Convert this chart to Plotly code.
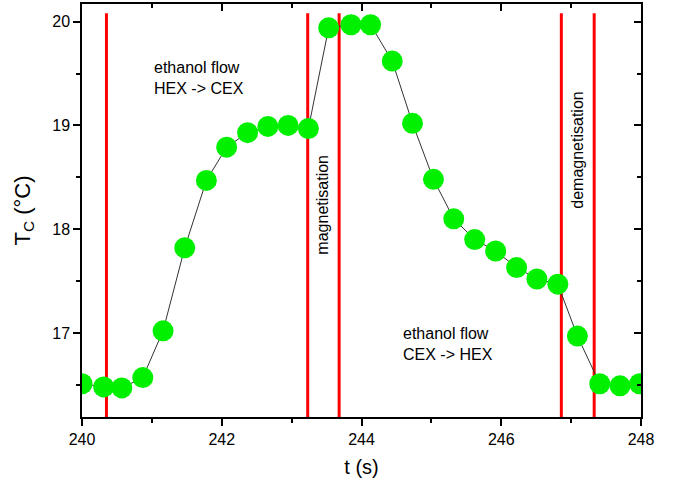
import plotly.graph_objects as go

t = [240.0, 240.31, 240.57, 240.87, 241.16, 241.47, 241.78, 242.07, 242.37, 242.66,
     242.95, 243.24, 243.53, 243.85, 244.13, 244.44, 244.73, 245.03, 245.32, 245.62,
     245.92, 246.22, 246.51, 246.81, 247.09, 247.41, 247.70, 247.98]
tc = [16.51, 16.48, 16.47, 16.57, 17.02, 17.82, 18.47, 18.79, 18.93, 18.99,
      19.00, 18.97, 19.94, 19.97, 19.97, 19.62, 19.02, 18.48, 18.10, 17.90,
      17.79, 17.63, 17.52, 17.47, 16.97, 16.51, 16.49, 16.51]
event_t = [240.35, 243.23, 243.68, 246.86, 247.33]
line_top = 20.08
line_bottom = 16.19

xr = [240, 248]
yr = [16.19, 20.17]
font = "Liberation Sans, Arial, sans-serif"

fig = go.Figure()
for et in event_t:
    fig.add_trace(go.Scatter(x=[et, et], y=[line_bottom, line_top], mode="lines",
                             line=dict(color="#ff0000", width=3), showlegend=False,
                             hoverinfo="skip"))
fig.add_trace(go.Scatter(x=t, y=tc, mode="lines+markers",
                         line=dict(color="#333333", width=1),
                         marker=dict(size=21, color="#00f000"),
                         showlegend=False))
# invisible trace so the mirrored (top/right) axes are drawn
fig.add_trace(go.Scatter(x=t[:1], y=tc[:1], xaxis="x2", yaxis="y2", mode="markers",
                         marker=dict(opacity=0), showlegend=False, hoverinfo="skip"))

ann_font = dict(size=16, color="black", family=font)
fig.add_annotation(x=241.0, y=19.46, text="ethanol flow<br>HEX -> CEX", showarrow=False,
                   xanchor="left", yanchor="middle", align="left", font=ann_font)
fig.add_annotation(x=244.56, y=16.89, text="ethanol flow<br>CEX -> HEX", showarrow=False,
                   xanchor="left", yanchor="middle", align="left", font=ann_font)
fig.add_annotation(x=243.44, y=18.24, text="magnetisation", showarrow=False, textangle=-90,
                   xanchor="center", yanchor="middle", font=ann_font)
fig.add_annotation(x=247.09, y=18.76, text="demagnetisation", showarrow=False, textangle=-90,
                   xanchor="center", yanchor="middle", font=ann_font)

common = dict(showgrid=False, zeroline=False, linecolor="black", linewidth=1.5,
              showline=True, automargin=False, tickwidth=1.5, tickcolor="black")
fig.update_layout(
    width=680, height=486,
    margin=dict(l=82, r=39, t=4, b=69),
    paper_bgcolor="white", plot_bgcolor="white",
    font=dict(family=font, size=16, color="black"),
    xaxis=dict(range=xr, tickvals=[240, 242, 244, 246, 248], ticks="outside", ticklen=7,
               minor=dict(tickvals=[241, 243, 245, 247], ticks="outside", ticklen=4,
                          tickwidth=1.5, tickcolor="black"),
               title=dict(text="t (s)", font=dict(size=20), standoff=13),
               tickfont=dict(size=16), **common),
    yaxis=dict(range=yr, tickvals=[17, 18, 19, 20], ticks="outside", ticklen=7,
               minor=dict(tickvals=[16.5, 17.5, 18.5, 19.5], ticks="outside", ticklen=4,
                          tickwidth=1.5, tickcolor="black"),
               title=dict(text="T<sub>C</sub> (°C)", font=dict(size=22), standoff=16),
               tickfont=dict(size=16), **common),
    xaxis2=dict(range=xr, overlaying="x", side="top", tickvals=[240, 242, 244, 246, 248],
                ticks="inside", ticklen=7, showticklabels=False,
                minor=dict(tickvals=[241, 243, 245, 247], ticks="inside", ticklen=4,
                           tickwidth=1.5, tickcolor="black"), **common),
    yaxis2=dict(range=yr, overlaying="y", side="right", tickvals=[17, 18, 19, 20],
                ticks="inside", ticklen=7, showticklabels=False,
                minor=dict(tickvals=[16.5, 17.5, 18.5, 19.5], ticks="inside", ticklen=4,
                           tickwidth=1.5, tickcolor="black"), **common),
)
fig.write_html("out.html", config={"displayModeBar": False},
               post_script="document.body.style.margin='0';")
